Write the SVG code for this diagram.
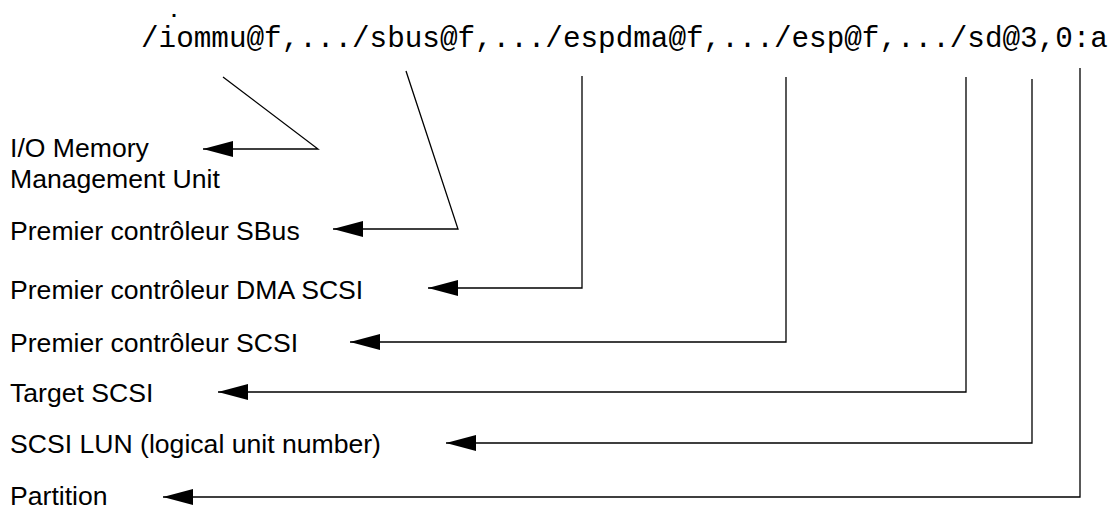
<svg xmlns="http://www.w3.org/2000/svg" width="1116" height="511" viewBox="0 0 1116 511">
<style>
.mono{font-family:"Liberation Mono","Courier New",monospace;font-size:29.3px;fill:#000}
.dot{font-family:"Liberation Mono","Courier New",monospace;font-size:20px;font-weight:bold;fill:#000}
.lbl{font-family:"Liberation Sans",Arial,sans-serif;font-size:26.6px;fill:#000}
.c{fill:none;stroke:#000;stroke-width:1.3}
</style>
<defs>
<marker id="ah" viewBox="0 0 30 16" refX="30" refY="8" markerWidth="30" markerHeight="16" markerUnits="userSpaceOnUse" orient="auto">
<path d="M0,0 L30,8 L0,16 z" fill="#000"/>
</marker>
</defs>
<rect width="1116" height="511" fill="#fff"/>
<g id="path">
<text class="dot" x="168" y="17">.</text>
<text class="mono" x="141" y="47">/iommu@f,.../sbus@f,.../espdma@f,.../esp@f,.../sd@3,0:a</text>
</g>
<g id="n-iommu"><text class="lbl" x="10" y="157">I/O Memory</text><text class="lbl" x="10" y="188">Management Unit</text></g>
<g id="n-sbus"><text class="lbl" x="10" y="240">Premier contrôleur SBus</text></g>
<g id="n-dma"><text class="lbl" x="10" y="299">Premier contrôleur DMA SCSI</text></g>
<g id="n-scsi"><text class="lbl" x="10" y="352">Premier contrôleur SCSI</text></g>
<g id="n-target"><text class="lbl" x="10" y="402">Target SCSI</text></g>
<g id="n-lun"><text class="lbl" x="10" y="453">SCSI LUN (logical unit number)</text></g>
<g id="n-part"><text class="lbl" x="10" y="505">Partition</text></g>
<g id="connectors">
<path class="c" d="M223,77 L318,149 L203,149" marker-end="url(#ah)"/>
<path class="c" d="M406,71 L458,229 L333,229" marker-end="url(#ah)"/>
<path class="c" d="M582,76 L582,288 L428,288" marker-end="url(#ah)"/>
<path class="c" d="M786,77 L786,342 L350,342" marker-end="url(#ah)"/>
<path class="c" d="M966,77 L966,392 L218,392" marker-end="url(#ah)"/>
<path class="c" d="M1032,79 L1032,443 L446,443" marker-end="url(#ah)"/>
<path class="c" d="M1080,68 L1080,497 L163,497" marker-end="url(#ah)"/>
</g>
</svg>
